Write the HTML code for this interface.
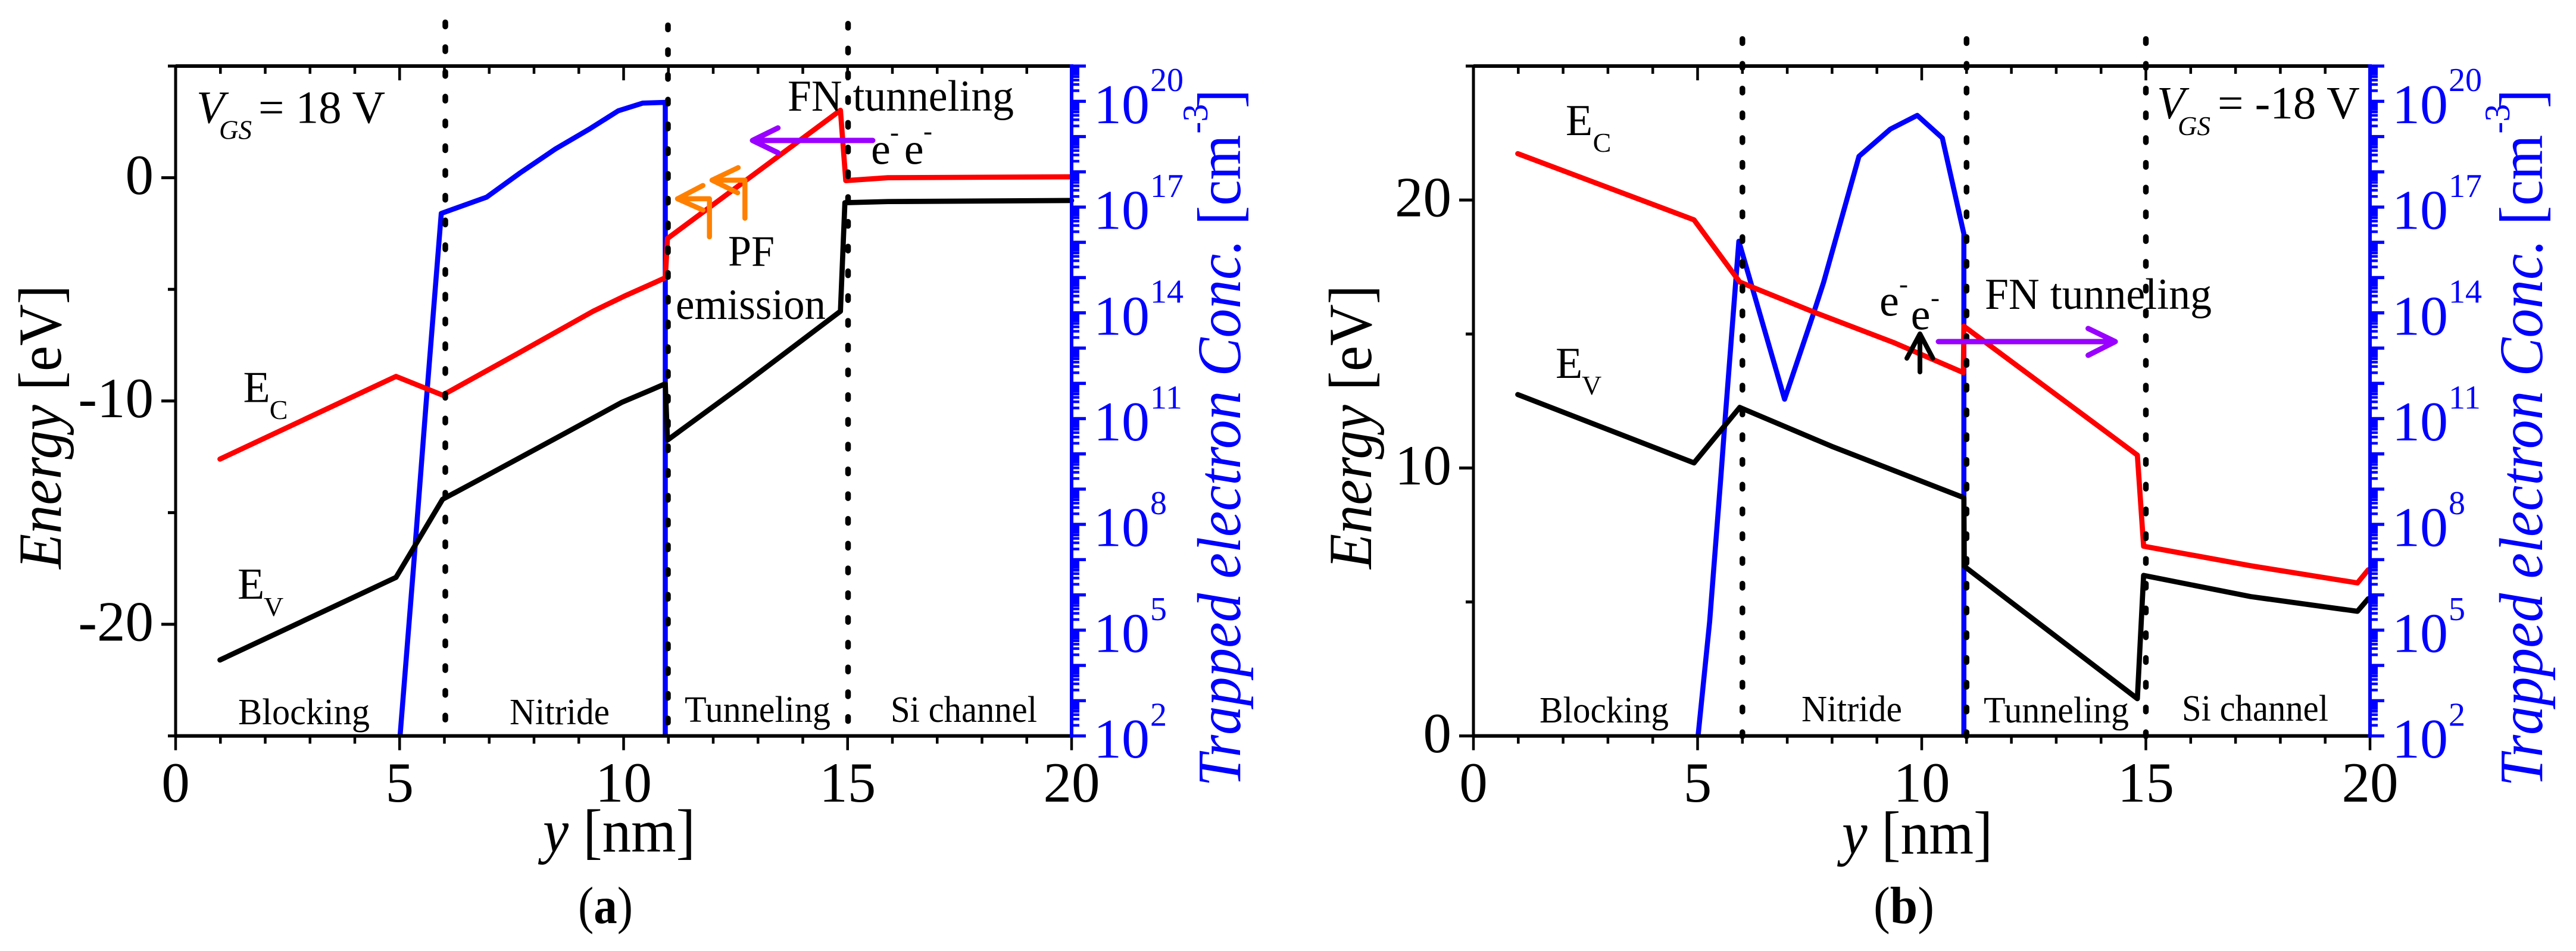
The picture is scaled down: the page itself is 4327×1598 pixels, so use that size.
<!DOCTYPE html>
<html lang="en">
<head>
<meta charset="utf-8">
<title>Energy band diagrams and trapped electron concentration</title>
<style>
html,body{margin:0;padding:0;background:#fff;width:4327px;height:1598px;overflow:hidden}
svg{display:block}
text{font-family:"Liberation Serif",serif;fill:#000}
.blue text{fill:#0000ff}
.i{font-style:italic}
</style>
</head>
<body>
<svg xmlns="http://www.w3.org/2000/svg" width="4327" height="1598" viewBox="0 0 4327 1598">
  <g id="panel-a"></g>
  <g id="panel-b"></g>

  <g>
    <text transform="translate(102,956) rotate(-90)" textLength="477" lengthAdjust="spacingAndGlyphs" font-size="103"><tspan class="i">Energy</tspan> [eV]</text>
    <text x="912" y="1431" font-size="103" textLength="256" lengthAdjust="spacingAndGlyphs"><tspan class="i">y</tspan> [nm]</text>
    <text x="971" y="1551" font-size="88" textLength="92" lengthAdjust="spacingAndGlyphs">(<tspan font-weight="bold">a</tspan>)</text>
    <g class="blue" transform="translate(2083,1321.6) rotate(-90)">
      <text class="i" x="0" y="0" font-size="104" textLength="1095" lengthAdjust="spacingAndGlyphs">Trapped electron Conc. <tspan font-style="normal">[cm</tspan></text>
      <text x="1097" y="-55" font-size="60">-3</text>
      <text x="1139.5" y="0" font-size="104" textLength="32" lengthAdjust="spacingAndGlyphs">]</text>
    </g>
    <text x="330" y="206.6" font-size="77" class="i">V</text>
    <text x="368" y="233.7" font-size="45" class="i">GS</text>
    <text x="434" y="206.6" font-size="77">= 18 V</text>
    <text x="408.5" y="675.7" font-size="74">E</text>
    <text x="452.8" y="704" font-size="46">C</text>
    <text x="399" y="1006" font-size="74">E</text>
    <text x="443" y="1035" font-size="46">V</text>
    <text x="400" y="1217" font-size="62" textLength="221" lengthAdjust="spacingAndGlyphs">Blocking</text>
    <text x="856" y="1217" font-size="62" textLength="168" lengthAdjust="spacingAndGlyphs">Nitride</text>
    <text x="1150" y="1213" font-size="62" textLength="245" lengthAdjust="spacingAndGlyphs">Tunneling</text>
    <text x="1496" y="1213" font-size="62" textLength="246" lengthAdjust="spacingAndGlyphs">Si channel</text>
    <text x="1323" y="186" font-size="74" textLength="380" lengthAdjust="spacingAndGlyphs">FN tunneling</text>
    <text x="1223" y="446.7" font-size="73" textLength="78" lengthAdjust="spacingAndGlyphs">PF</text>
    <text x="1135" y="536" font-size="73" textLength="252" lengthAdjust="spacingAndGlyphs">emission</text>
    <text x="1463" y="275.7" font-size="74">e</text>
    <text x="1495" y="237" font-size="45">-</text>
    <text x="1518.8" y="275.7" font-size="74">e</text>
    <text x="1551" y="235" font-size="45">-</text>
    <path d="M1466 236H1264M1306.7 215L1264 236L1306.7 256.7" fill="none" stroke="#9900ff" stroke-width="9" stroke-linecap="round" stroke-linejoin="round"/>
    <path d="M1191.7 398V334H1138M1180.7 311.7L1138 334L1180.7 353" fill="none" stroke="#ff8000" stroke-width="8.5" stroke-linecap="round" stroke-linejoin="round"/>
    <path d="M1251.3 366.7V302.7H1196M1240 281.7L1196 302.7L1239 324" fill="none" stroke="#ff8000" stroke-width="8.5" stroke-linecap="round" stroke-linejoin="round"/>
  </g>

  <g>
    <text transform="translate(2303,956) rotate(-90)" textLength="477" lengthAdjust="spacingAndGlyphs" font-size="103"><tspan class="i">Energy</tspan> [eV]</text>
    <text x="3094" y="1434.6" font-size="103" textLength="253" lengthAdjust="spacingAndGlyphs"><tspan class="i">y</tspan> [nm]</text>
    <text x="3147" y="1551" font-size="88" textLength="102" lengthAdjust="spacingAndGlyphs">(<tspan font-weight="bold">b</tspan>)</text>
    <g class="blue" transform="translate(4270,1321.6) rotate(-90)">
      <text class="i" x="0" y="0" font-size="104" textLength="1095" lengthAdjust="spacingAndGlyphs">Trapped electron Conc. <tspan font-style="normal">[cm</tspan></text>
      <text x="1097" y="-55" font-size="60">-3</text>
      <text x="1139.5" y="0" font-size="104" textLength="32" lengthAdjust="spacingAndGlyphs">]</text>
    </g>
    <text x="3623" y="199" font-size="77" class="i">V</text>
    <text x="3658" y="227" font-size="45" class="i">GS</text>
    <text x="3725" y="199" font-size="77">= -18 V</text>
    <text x="2630" y="227" font-size="74">E</text>
    <text x="2675.6" y="255" font-size="46">C</text>
    <text x="2613" y="635" font-size="74">E</text>
    <text x="2657" y="663" font-size="46">V</text>
    <text x="2586" y="1214" font-size="62" textLength="217" lengthAdjust="spacingAndGlyphs">Blocking</text>
    <text x="3026" y="1212" font-size="62" textLength="169" lengthAdjust="spacingAndGlyphs">Nitride</text>
    <text x="3332" y="1214" font-size="62" textLength="244" lengthAdjust="spacingAndGlyphs">Tunneling</text>
    <text x="3665" y="1211" font-size="62" textLength="246" lengthAdjust="spacingAndGlyphs">Si channel</text>
    <text x="3334" y="519" font-size="74" textLength="381" lengthAdjust="spacingAndGlyphs">FN tunneling</text>
    <text x="3157" y="530.6" font-size="74">e</text>
    <text x="3190" y="492" font-size="45">-</text>
    <text x="3209.6" y="553.6" font-size="74">e</text>
    <text x="3243" y="515" font-size="45">-</text>
    <path d="M3256 574H3553M3507.6 552L3553 574L3507.6 597" fill="none" stroke="#9900ff" stroke-width="9" stroke-linecap="round" stroke-linejoin="round"/>
    <path d="M3225 625V561M3203 602L3225 561L3246.7 602" fill="none" stroke="#000" stroke-width="8" stroke-linecap="round" stroke-linejoin="round"/>
  </g>
</svg>

<script>
// ---- shared axis values ----
const xMajorTicks = [0, 5, 10, 15, 20];
const xMinorTicks = [1, 2, 3, 4, 6, 7, 8, 9, 11, 12, 13, 14, 16, 17, 18, 19];
const trapTickExponents = [2, 5, 8, 11, 14, 17, 20];

// ---- panel (a), VGS = 18 V ----
const energyMajorTicksA = [0, -10, -20];
const energyMinorTicksA = [5, -5, -15, -25];
const boundariesA = [6.02, 10.99, 15.01];
const ecPositionsA = [0.99, 4.92, 5.96, 7.64, 9.32, 10.02, 10.7, 10.93, 10.98, 14.84, 14.96, 15.9, 20];
const ecValuesA = [-12.6, -8.9, -9.74, -7.87, -5.98, -5.3, -4.69, -4.48, -2.72, 3.02, -0.13, 0.0, 0.04];
const evPositionsA = [0.99, 4.92, 5.96, 6.8, 8.66, 9.97, 10.62, 10.93, 10.98, 12.65, 14.84, 14.94, 15.9, 20];
const evValuesA = [-21.6, -17.9, -14.4, -13.5, -11.48, -10.05, -9.5, -9.23, -11.75, -9.3, -5.98, -1.12, -1.07, -1.02];
const trapPositionsA = [5.01, 5.31, 5.59, 5.93, 6.94, 7.69, 8.48, 9.22, 9.88, 10.43, 10.93, 10.93];
const trapExponentsA = [2, 6.79, 11.4, 16.82, 17.28, 17.97, 18.65, 19.2, 19.73, 19.95, 19.97, 2];

// ---- panel (b), VGS = -18 V ----
const energyMajorTicksB = [0, 10, 20];
const energyMinorTicksB = [5, 15, 25];
const boundariesB = [6, 11, 15];
const ecPositionsB = [0.99, 4.92, 5.94, 7.62, 9.39, 10.93, 10.94, 13.71, 14.81, 14.95, 17.34, 19.72, 19.96];
const ecValuesB = [21.73, 19.26, 16.94, 15.8, 14.67, 13.56, 15.29, 11.85, 10.48, 7.08, 6.35, 5.71, 6.2];
const evPositionsB = [0.99, 4.92, 5.94, 7.99, 10.94, 10.95, 11.94, 14.81, 14.95, 17.34, 19.72, 19.96];
const evValuesB = [12.74, 10.19, 12.26, 10.81, 8.89, 6.33, 5.06, 1.39, 5.99, 5.2, 4.65, 5.12];
const trapPositionsB = [5.01, 5.27, 5.52, 5.62, 5.92, 6.94, 7.57, 7.81, 8.6, 9.3, 9.9, 10.46, 10.94, 10.94];
const trapExponentsB = [2, 5.25, 9.37, 11.08, 16.03, 11.55, 13.92, 14.86, 18.44, 19.21, 19.6, 18.96, 16.24, 2];

const SVGNS = 'http://www.w3.org/2000/svg';
const PLOT_TOP = 111, PLOT_BOTTOM = 1236.6;
const TRAP_MIN = 2, TRAP_MAX = 21;

function mk(parent, tag, props, txt) {
  const el = document.createElementNS(SVGNS, tag);
  for (const k in props) el.setAttribute(k, props[k]);
  if (txt !== undefined) el.textContent = txt;
  parent.appendChild(el);
  return el;
}

function seriesPath(xs, ys, sx, sy) {
  return xs.map((x, i) => (i ? 'L' : 'M') + sx(x).toFixed(1) + ' ' + sy(ys[i]).toFixed(1)).join('');
}

function drawPanel(cfg) {
  const g = document.getElementById(cfg.id);
  const sx = v => cfg.left + (v / 20) * (cfg.right - cfg.left);
  const sy = v => PLOT_BOTTOM - (v - cfg.eMin) / (cfg.eMax - cfg.eMin) * (PLOT_BOTTOM - PLOT_TOP);
  const st = v => PLOT_BOTTOM - (v - TRAP_MIN) / (TRAP_MAX - TRAP_MIN) * (PLOT_BOTTOM - PLOT_TOP);

  // series
  const trap = mk(g, 'path', {d: seriesPath(cfg.trapX, cfg.trapY, sx, st), fill: 'none', stroke: '#0000ff', 'stroke-width': 8.5, 'stroke-linejoin': 'round'});
  
  
  const ec = mk(g, 'path', {d: seriesPath(cfg.ecX, cfg.ecY, sx, sy), fill: 'none', stroke: '#ff0000', 'stroke-width': 8.7, 'stroke-linejoin': 'round', 'stroke-linecap': 'round'});
  
  
  const ev = mk(g, 'path', {d: seriesPath(cfg.evX, cfg.evY, sx, sy), fill: 'none', stroke: '#000', 'stroke-width': 8.7, 'stroke-linejoin': 'round', 'stroke-linecap': 'round'});
  
  

  // layer boundaries
  cfg.boundaries.forEach((b, i) => {
    const line = mk(g, 'line', {x1: sx(b), x2: sx(b), y1: cfg.dotStart[i], y2: cfg.dotEnd, stroke: '#000', 'stroke-width': 9.5, 'stroke-linecap': 'round', 'stroke-dasharray': '7 34.6'});
    
    
  });

  // frame
  const leftAxis = mk(g, 'line', {x1: cfg.left, x2: cfg.left, y1: PLOT_TOP, y2: PLOT_BOTTOM, stroke: '#000', 'stroke-width': 5});
  
  
  const topAxis = mk(g, 'line', {x1: cfg.left, x2: cfg.right, y1: PLOT_TOP, y2: PLOT_TOP, stroke: '#000', 'stroke-width': 6});
  
  
  const bottomAxis = mk(g, 'line', {x1: cfg.left, x2: cfg.right, y1: PLOT_BOTTOM, y2: PLOT_BOTTOM, stroke: '#000', 'stroke-width': 6});
  
  

  // x ticks (outward at the bottom, inward at the top)
  xMajorTicks.forEach(v => {
    const b = mk(g, 'line', {x1: sx(v), x2: sx(v), y1: PLOT_BOTTOM, y2: PLOT_BOTTOM + 24, stroke: '#000', 'stroke-width': 4.5});
    
    
    const t = mk(g, 'line', {x1: sx(v), x2: sx(v), y1: PLOT_TOP, y2: PLOT_TOP + 24, stroke: '#000', 'stroke-width': 4.5});
    
    
    const lab = mk(g, 'text', {x: sx(v), y: 1347, 'font-size': 95, 'text-anchor': 'middle'}, String(v));
    
    
  });
  xMinorTicks.forEach(v => {
    const b = mk(g, 'line', {x1: sx(v), x2: sx(v), y1: PLOT_BOTTOM, y2: PLOT_BOTTOM + 13, stroke: '#000', 'stroke-width': 4.5});
    
    
    const t = mk(g, 'line', {x1: sx(v), x2: sx(v), y1: PLOT_TOP, y2: PLOT_TOP + 13, stroke: '#000', 'stroke-width': 4.5});
    
    
  });

  // energy ticks
  cfg.eMajor.forEach(v => {
    const t = mk(g, 'line', {x1: cfg.left - 24, x2: cfg.left, y1: sy(v), y2: sy(v), stroke: '#000', 'stroke-width': 5});
    
    
    const lab = mk(g, 'text', {x: cfg.left - 37, y: sy(v) + 27.4, 'font-size': 95, 'text-anchor': 'end'}, String(v));
    
    
  });
  cfg.eMinor.forEach(v => {
    const t = mk(g, 'line', {x1: cfg.left - 13, x2: cfg.left, y1: sy(v), y2: sy(v), stroke: '#000', 'stroke-width': 5});
    
    
  });

  // log axis
  const rightAxis = mk(g, 'line', {x1: cfg.right, x2: cfg.right, y1: PLOT_TOP - 3, y2: PLOT_BOTTOM + 3, stroke: '#0000ff', 'stroke-width': 6});
  
  
  for (let d = TRAP_MIN; d <= TRAP_MAX; d++) {
    const t = mk(g, 'line', {x1: cfg.right, x2: cfg.right + 24, y1: st(d), y2: st(d), stroke: '#0000ff', 'stroke-width': 5.3});
    
    
    if (d === TRAP_MAX) continue;
    for (let m = 2; m <= 9; m++) {
      const mn = mk(g, 'line', {x1: cfg.right, x2: cfg.right + 13, y1: st(d + Math.log10(m)), y2: st(d + Math.log10(m)), stroke: '#0000ff', 'stroke-width': 4.5});
      
      
    }
  }
  trapTickExponents.forEach(e => {
    const base = mk(g, 'text', {x: cfg.right + 37, y: st(e) + 36.6, 'font-size': 94, style: 'fill:#0000ff'}, '10');
    
    
    const exp = mk(g, 'text', {x: cfg.right + 132, y: st(e) - 17, 'font-size': 56, style: 'fill:#0000ff'}, String(e));
    
    
  });
}

drawPanel({
  id: 'panel-a', left: 295, right: 1800, eMin: -25, eMax: 5,
  eMajor: energyMajorTicksA, eMinor: energyMinorTicksA,
  boundaries: boundariesA, dotStart: [37.5, 42.5, 39.8], dotEnd: 1215,
  ecX: ecPositionsA, ecY: ecValuesA, evX: evPositionsA, evY: evValuesA,
  trapX: trapPositionsA, trapY: trapExponentsA
});
drawPanel({
  id: 'panel-b', left: 2475, right: 3981, eMin: 0, eMax: 25,
  eMajor: energyMajorTicksB, eMinor: energyMinorTicksB,
  boundaries: boundariesB, dotStart: [65.5, 65.5, 65.5], dotEnd: 1240,
  ecX: ecPositionsB, ecY: ecValuesB, evX: evPositionsB, evY: evValuesB,
  trapX: trapPositionsB, trapY: trapExponentsB
});
</script>
</body>
</html>
